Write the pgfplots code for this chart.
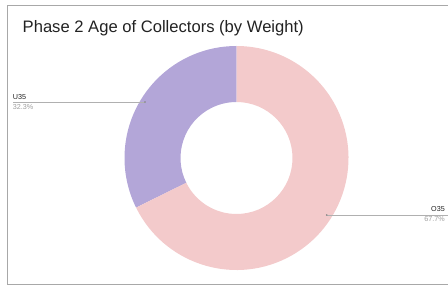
\documentclass[border=0pt]{standalone}
\usepackage{pgfplots}
\usepackage{pgfplotstable}
\usepackage{fontspec}
\setmainfont{Liberation Sans}
\pgfplotsset{compat=1.18}
\definecolor{purp}{HTML}{B3A6D8}
\definecolor{pinkc}{HTML}{F3CACB}
\definecolor{framec}{HTML}{A8A8A8}
\definecolor{titlec}{HTML}{222222}
\definecolor{pctc}{HTML}{9E9E9E}
\definecolor{leadc}{HTML}{B0B0B0}
\pgfplotstableread{
label value
U35 32.3
O35 67.7
}\datatable
\begin{document}
\begin{tikzpicture}
\useasboundingbox (0,0) rectangle (448pt,287pt);
\begin{axis}[scale only axis, width=448pt, height=287pt,
  xmin=0, xmax=448, ymin=0, ymax=287, hide axis, clip=false,
  at={(0,0)}, anchor=south west]
\pgfplotstablegetelem{0}{value}\of\datatable
\pgfmathsetmacro{\aA}{90+3.6*\pgfplotsretval}
% frame
\draw[framec, line width=0.9pt] (axis cs:470,282) -- (axis cs:7.3,282) -- (axis cs:7.3,3) -- (axis cs:470,3);
% title
\node[anchor=base west, text=titlec, font=\fontsize{16.6}{19}\selectfont, inner sep=0pt] at (axis cs:22.5,254) {Phase 2 Age of Collectors (by Weight)};
% U35 wedge
\fill[purp] (axis cs:236.5,241) arc[start angle=90, end angle=\aA, radius=112pt]
  -- (axis cs:{236.5+56*cos(\aA)},{129+56*sin(\aA)}) arc[start angle=\aA, end angle=90, radius=56pt] -- cycle;
% O35 wedge
\fill[pinkc] (axis cs:{236.5+112*cos(\aA)},{129+112*sin(\aA)}) arc[start angle=\aA, end angle=450, radius=112pt]
  -- (axis cs:236.5,185) arc[start angle=450, end angle=\aA, radius=56pt] -- cycle;
% leader lines
\draw[leadc, line width=0.8pt] (axis cs:145,185) -- (axis cs:12.7,185);
\fill[gray] (axis cs:145,185) circle[radius=0.9pt];
\draw[leadc, line width=0.8pt] (axis cs:326.7,72) -- (axis cs:470,72);
\fill[gray] (axis cs:326.7,72) circle[radius=0.9pt];
% labels
\node[anchor=base west, inner sep=0pt, text=titlec, font=\fontsize{7.2}{8}\selectfont] at (axis cs:12.7,187.7) {U35};
\node[anchor=base west, inner sep=0pt, text=pctc, font=\fontsize{7.2}{8}\selectfont] at (axis cs:12.7,177.7) {32.3\%};
\node[anchor=base east, inner sep=0pt, text=titlec, font=\fontsize{7.2}{8}\selectfont] at (axis cs:445,75.3) {O35};
\node[anchor=base east, inner sep=0pt, text=pctc, font=\fontsize{7.2}{8}\selectfont] at (axis cs:445,65.3) {67.7\%};
\end{axis}
\end{tikzpicture}
\end{document}
